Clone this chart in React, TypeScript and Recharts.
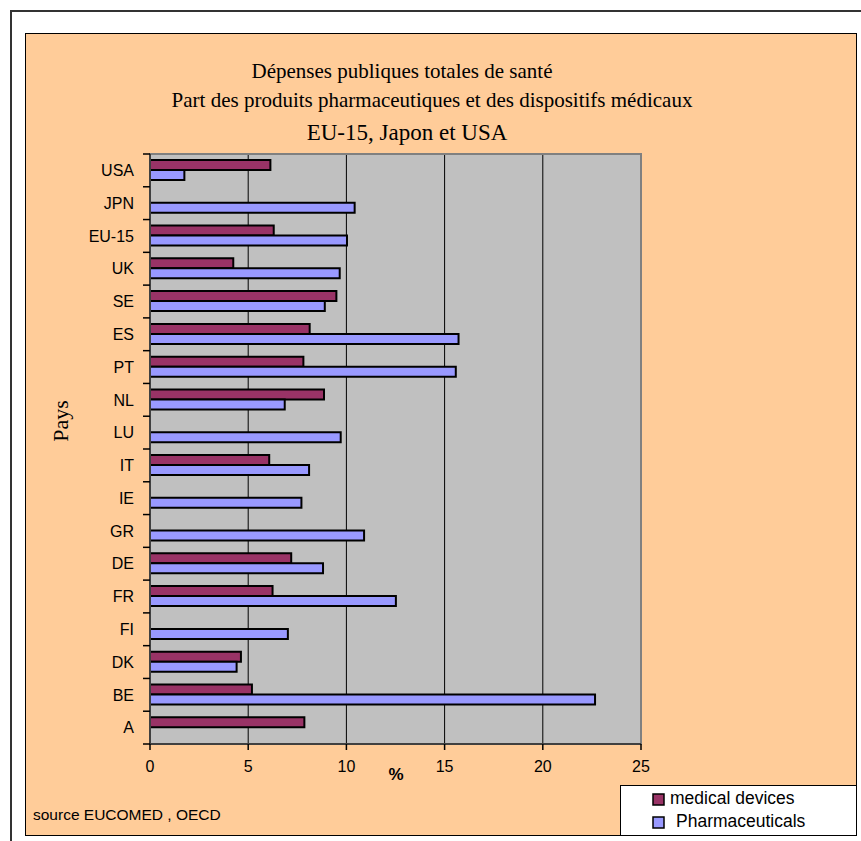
import { Bar, BarChart, CartesianGrid, Legend, ReferenceArea, XAxis, YAxis } from "recharts";

const COUNTRIES = ["USA", "JPN", "EU-15", "UK", "SE", "ES", "PT", "NL", "LU", "IT", "IE", "GR", "DE", "FR", "FI", "DK", "BE", "A"];
const MEDICAL_DEVICES = [6.13, null, 6.3, 4.24, 9.49, 8.13, 7.81, 8.86, null, 6.07, null, null, 7.19, 6.24, null, 4.63, 5.19, 7.86];
const PHARMACEUTICALS = [1.75, 10.42, 10.03, 9.66, 8.9, 15.71, 15.57, 6.86, 9.71, 8.1, 7.71, 10.9, 8.81, 12.52, 7.02, 4.41, 22.66, null];
const X_TICKS = [0, 5, 10, 15, 20, 25];
const SERIES_NAMES = ["medical devices", "Pharmaceuticals"];

const TITLE_1 = "Dépenses publiques totales de santé";
const TITLE_2 = "Part des produits pharmaceutiques et des dispositifs médicaux";
const TITLE_3 = "EU-15, Japon et USA";
const SOURCE = "source EUCOMED , OECD";

const ARIAL = "Arial, 'Liberation Sans', sans-serif";
const TIMES = "'Times New Roman', 'Liberation Serif', serif";

const TICK_SIZE = 8;
const TICK_MARGIN = 8;

const data = COUNTRIES.map((country, i) => ({
  country,
  medical: MEDICAL_DEVICES[i],
  pharma: PHARMACEUTICALS[i],
}));

// label at band centre, tick marks on the band edges (Excel style)
function CountryTick(props: any) {
  const { x, y, payload, index } = props;
  const half = payload?.offset ?? 16.4;
  const x1 = x + TICK_MARGIN + 1;
  const x2 = x + TICK_MARGIN + TICK_SIZE;
  const last = index === COUNTRIES.length - 1;
  return (
    <g>
      <text x={x} y={y} dy="0.36em" textAnchor="end" fill="#000" fontSize={16} fontFamily={ARIAL}>
        {payload.value}
      </text>
      <line x1={x1} x2={x2} y1={y - half} y2={y - half} stroke="#000" strokeWidth={1.5} />
      {last && <line x1={x1} x2={x2} y1={y + half} y2={y + half} stroke="#000" strokeWidth={1.5} />}
    </g>
  );
}

function LegendBox({ payload }: any) {
  const items = [...(payload ?? [])].sort(
    (a: any, b: any) => SERIES_NAMES.indexOf(a.value) - SERIES_NAMES.indexOf(b.value),
  );
  return (
    <svg width={237} height={51} style={{ display: "block" }}>
      <rect x={0.5} y={0.5} width={236} height={50} fill="#fff" stroke="#000" />
      {items.map((item: any, i: number) => (
        <g key={item.value}>
          <rect x={33} y={9 + i * 23} width={11} height={11} fill={item.color} stroke="#000" strokeWidth={1.5} />
          <text x={i === 0 ? 50 : 56} y={19 + i * 23} fontSize={17.5} fontFamily={ARIAL} fill="#000">
            {item.value}
          </text>
        </g>
      ))}
    </svg>
  );
}

export default function App() {
  return (
    <div style={{ position: "absolute", left: 0, top: 0, width: 861, height: 841, background: "#fff", overflow: "hidden" }}>
      <div style={{ position: "absolute", left: 10, top: 10, width: 900, height: 900, border: "2px solid #333" }} />
      <div
        style={{
          position: "absolute",
          left: 25,
          top: 33,
          width: 832,
          height: 803,
          boxSizing: "border-box",
          border: "1px solid #000",
          background: "#FFCC99",
        }}
      >
        <BarChart
          width={830}
          height={801}
          layout="vertical"
          data={data}
          margin={{ top: 120, right: 215, bottom: 51, left: 24 }}
          barSize={10}
          barGap={0}
        >
          <CartesianGrid horizontal={false} stroke="#000" fill="#C0C0C0" fillOpacity={1} />
          <ReferenceArea x1={0} x2={25} fill="none" stroke="#808080" strokeWidth={2} ifOverflow="visible" />
          <XAxis
            type="number"
            domain={[0, 25]}
            ticks={X_TICKS}
            interval={0}
            height={40}
            tickSize={6}
            tickMargin={11}
            tick={{ fill: "#000", fontSize: 16, fontFamily: ARIAL }}
            tickLine={{ stroke: "#000", strokeWidth: 1.5 }}
            axisLine={{ stroke: "#404040", strokeWidth: 2 }}
          />
          <YAxis
            type="category"
            dataKey="country"
            width={100}
            interval={0}
            tickSize={TICK_SIZE}
            tickMargin={TICK_MARGIN}
            tickLine={false}
            tick={<CountryTick />}
            axisLine={{ stroke: "#404040", strokeWidth: 2 }}
          />
          <Bar dataKey="medical" name={SERIES_NAMES[0]} fill="#993366" stroke="#000" strokeWidth={2} isAnimationActive={false} />
          <Bar dataKey="pharma" name={SERIES_NAMES[1]} fill="#9999FF" stroke="#000" strokeWidth={2} isAnimationActive={false} />
          <Legend
            layout="vertical"
            align="center"
            verticalAlign="middle"
            content={<LegendBox />}
            wrapperStyle={{ left: 594, top: 751, width: 237, height: 51 }}
          />
        </BarChart>
      </div>
      <svg width={861} height={841} style={{ position: "absolute", left: 0, top: 0, pointerEvents: "none" }}>
        <text x={402} y={78} textAnchor="middle" fontSize={21} fontFamily={TIMES} fill="#000">{TITLE_1}</text>
        <text x={432} y={107} textAnchor="middle" fontSize={21} fontFamily={TIMES} fill="#000">{TITLE_2}</text>
        <text x={407} y={140} textAnchor="middle" fontSize={23} fontFamily={TIMES} fill="#000">{TITLE_3}</text>
        <text x={0} y={0} transform="translate(68 421) rotate(-90)" textAnchor="middle" fontSize={22} fontFamily={TIMES} fill="#000">
          Pays
        </text>
        <text x={396} y={780} textAnchor="middle" fontSize={17} fontWeight="bold" fontFamily={ARIAL} fill="#000">%</text>
        <text x={33} y={820} fontSize={15.5} fontFamily={ARIAL} fill="#000">{SOURCE}</text>
      </svg>
    </div>
  );
}
